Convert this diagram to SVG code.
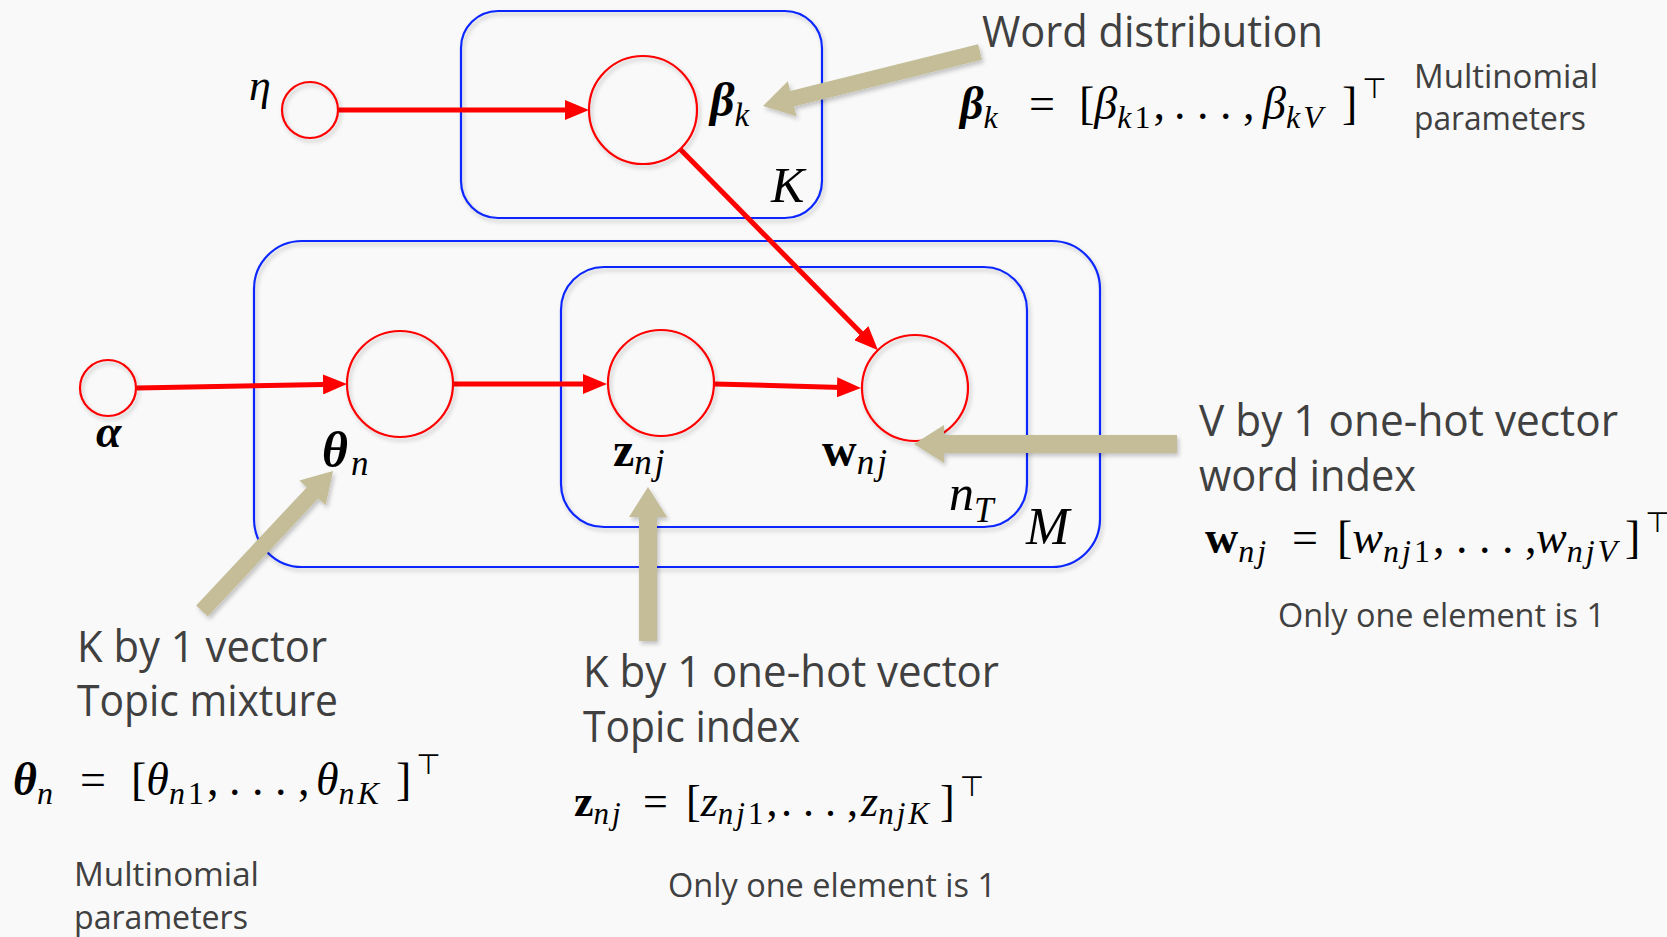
<svg xmlns="http://www.w3.org/2000/svg" width="1667" height="937" viewBox="0 0 1667 937">
<defs>
<style>
.bg{fill:#f9f9f9}
.plate{fill:none;stroke:#0a28ff;stroke-width:2.2}
.node{fill:none;stroke:#ff0000;stroke-width:2.2}
.edge{fill:none;stroke:#ff0000;stroke-width:5}
.tan{fill:#c4bd97}
.lbl{font-family:"Open Sans","Liberation Sans",sans-serif;fill:#404040}
.m{font-family:"Liberation Serif","DejaVu Serif",serif;fill:#000}
.i{font-style:italic}
.b{font-weight:bold}
.s{letter-spacing:3px}
.top{font-family:"DejaVu Sans",sans-serif;font-style:normal;font-weight:normal}
</style>
<marker id="ah" markerUnits="userSpaceOnUse" markerWidth="24" markerHeight="20" refX="14" refY="10" orient="auto"><path d="M0,0 L24,10 L0,20 z" fill="#ff0000"/></marker>
<filter id="sh" x="-10%" y="-10%" width="130%" height="130%"><feDropShadow dx="2" dy="3" stdDeviation="2" flood-color="#000" flood-opacity="0.22"/></filter>
</defs>
<rect class="bg" x="0" y="0" width="1667" height="937"/>

<g id="plates" filter="url(#sh)">
<rect id="plate-K" class="plate" x="461" y="11" width="361" height="207" rx="37"/>
<rect id="plate-M" class="plate" x="254" y="241" width="846" height="326" rx="48"/>
<rect id="plate-nT" class="plate" x="561" y="267" width="466" height="260" rx="43"/>
</g>

<g id="connectors">
<line class="edge" x1="338" y1="110" x2="579" y2="110" marker-end="url(#ah)"/>
<line class="edge" x1="137" y1="388" x2="337" y2="384.2" marker-end="url(#ah)"/>
<line class="edge" x1="454" y1="384" x2="597" y2="384" marker-end="url(#ah)"/>
<line class="edge" x1="715" y1="384" x2="851" y2="387.7" marker-end="url(#ah)"/>
<line class="edge" x1="680" y1="149" x2="871" y2="343" marker-end="url(#ah)"/>
</g>

<g id="node-eta">
<circle class="node" cx="310" cy="110" r="28" filter="url(#sh)"/>
<text class="m i" x="249" y="100" font-size="44">η</text>
</g>
<g id="node-beta">
<circle class="node" cx="643" cy="110" r="54" filter="url(#sh)"/>
<text class="m" x="710" y="116" font-size="48"><tspan class="b i">β</tspan><tspan class="i" y="126" font-size="33">k</tspan></text>
</g>
<g id="node-alpha">
<circle class="node" cx="108" cy="388" r="28" filter="url(#sh)"/>
<text class="m b i" x="96" y="447" font-size="46">α</text>
</g>
<g id="node-theta">
<circle class="node" cx="400" cy="384" r="53" filter="url(#sh)"/>
<text class="m" x="322" y="467" font-size="50"><tspan class="b i">θ</tspan><tspan class="i" dx="3" y="475" font-size="35">n</tspan></text>
</g>
<g id="node-z">
<circle class="node" cx="661" cy="383" r="53" filter="url(#sh)"/>
<text class="m" x="613" y="466" font-size="48"><tspan class="b">z</tspan><tspan class="i s" y="474" font-size="35">nj</tspan></text>
</g>
<g id="node-w">
<circle class="node" cx="915" cy="388" r="53" filter="url(#sh)"/>
<text class="m" x="822" y="466" font-size="48"><tspan class="b">w</tspan><tspan class="i s" y="474" font-size="35">nj</tspan></text>
</g>

<g id="plate-labels" class="m i">
<text x="771" y="202" font-size="50">K</text>
<text x="1026" y="544" font-size="52">M</text>
<text x="949" y="510" font-size="50">n<tspan y="522" font-size="35">T</tspan></text>
</g>

<g id="callout-arrows" filter="url(#sh)">
<polygon class="tan" points="981.9,59.8 794,106.5 796.5,116.2 763,106 787.8,81.3 790.2,91 978.1,44.2"/>
<polygon class="tan" points="207.8,616.5 318.3,498.4 325.6,505.2 333,471 299.4,480.6 306.7,487.4 196.2,605.5"/>
<polygon class="tan" points="657,641 657,517 667,517 648,487 629,517 639,517 639,641"/>
<polygon class="tan" points="1177,435 944,435 944,425 914,444 944,463 944,453 1177,453"/>
</g>

<g id="annotation-beta">
<text class="lbl" x="982" y="47" font-size="43" textLength="341" lengthAdjust="spacingAndGlyphs">Word distribution</text>
<text class="m" y="119" font-size="46"><tspan class="b i" x="960">β</tspan><tspan class="i" y="128" font-size="32">k</tspan><tspan x="1029" y="119">=</tspan><tspan x="1079">[</tspan><tspan class="i">β</tspan><tspan class="s" y="128" font-size="32"><tspan class="i">k</tspan>1</tspan><tspan y="119">,</tspan><tspan x="1174">. . . ,</tspan><tspan class="i" x="1263">β</tspan><tspan class="i s" y="128" font-size="32">kV</tspan><tspan x="1342" y="119">]</tspan><tspan class="top" dx="5" y="98" font-size="28">⊤</tspan></text>
<text class="lbl" x="1414" y="88" font-size="33" textLength="184" lengthAdjust="spacingAndGlyphs">Multinomial</text>
<text class="lbl" x="1414" y="130" font-size="33" textLength="172" lengthAdjust="spacingAndGlyphs">parameters</text>
</g>

<g id="annotation-w">
<text class="lbl" x="1199" y="436" font-size="44" textLength="419" lengthAdjust="spacingAndGlyphs">V by 1 one-hot vector</text>
<text class="lbl" x="1199" y="491" font-size="44" textLength="217" lengthAdjust="spacingAndGlyphs">word index</text>
<text class="m" y="553" font-size="46"><tspan class="b" x="1205">w</tspan><tspan class="i s" y="562" font-size="32">nj</tspan><tspan x="1292" y="553">=</tspan><tspan x="1337">[</tspan><tspan class="i">w</tspan><tspan class="s" y="562" font-size="32"><tspan class="i">nj</tspan>1</tspan><tspan y="553">,</tspan><tspan x="1456">. . . ,</tspan><tspan class="i" x="1536">w</tspan><tspan class="i s" y="562" font-size="32">njV</tspan><tspan x="1625" y="553">]</tspan><tspan class="top" dx="5" y="532" font-size="28">⊤</tspan></text>
<text class="lbl" x="1278" y="627" font-size="32" textLength="327" lengthAdjust="spacingAndGlyphs">Only one element is 1</text>
</g>

<g id="annotation-theta">
<text class="lbl" x="77" y="662" font-size="44" textLength="250" lengthAdjust="spacingAndGlyphs">K by 1 vector</text>
<text class="lbl" x="77" y="716" font-size="44" textLength="261" lengthAdjust="spacingAndGlyphs">Topic mixture</text>
<text class="m" y="795" font-size="46"><tspan class="b i" x="13">θ</tspan><tspan class="i" y="804" font-size="32">n</tspan><tspan x="80" y="795">=</tspan><tspan x="131">[</tspan><tspan class="i">θ</tspan><tspan class="s" y="804" font-size="32"><tspan class="i">n</tspan>1</tspan><tspan y="795">,</tspan><tspan x="229">. . . ,</tspan><tspan class="i" x="316">θ</tspan><tspan class="i s" y="804" font-size="32">nK</tspan><tspan x="396" y="795">]</tspan><tspan class="top" dx="5" y="774" font-size="28">⊤</tspan></text>
<text class="lbl" x="74" y="886" font-size="33" textLength="185" lengthAdjust="spacingAndGlyphs">Multinomial</text>
<text class="lbl" x="74" y="929" font-size="33" textLength="174" lengthAdjust="spacingAndGlyphs">parameters</text>
</g>

<g id="annotation-z">
<text class="lbl" x="583" y="687" font-size="44" textLength="416" lengthAdjust="spacingAndGlyphs">K by 1 one-hot vector</text>
<text class="lbl" x="583" y="742" font-size="44" textLength="217" lengthAdjust="spacingAndGlyphs">Topic index</text>
<text class="m" y="816" font-size="44"><tspan class="b" x="574">z</tspan><tspan class="i s" y="824" font-size="31">nj</tspan><tspan x="643" y="816">=</tspan><tspan x="686">[</tspan><tspan class="i">z</tspan><tspan class="s" y="824" font-size="31"><tspan class="i">nj</tspan>1</tspan><tspan y="816">,</tspan><tspan x="781">. . . ,</tspan><tspan class="i" x="861">z</tspan><tspan class="i s" y="824" font-size="31">njK</tspan><tspan x="940" y="816">]</tspan><tspan class="top" dx="5" y="796" font-size="28">⊤</tspan></text>
<text class="lbl" x="668" y="897" font-size="32" textLength="328" lengthAdjust="spacingAndGlyphs">Only one element is 1</text>
</g>
</svg>
